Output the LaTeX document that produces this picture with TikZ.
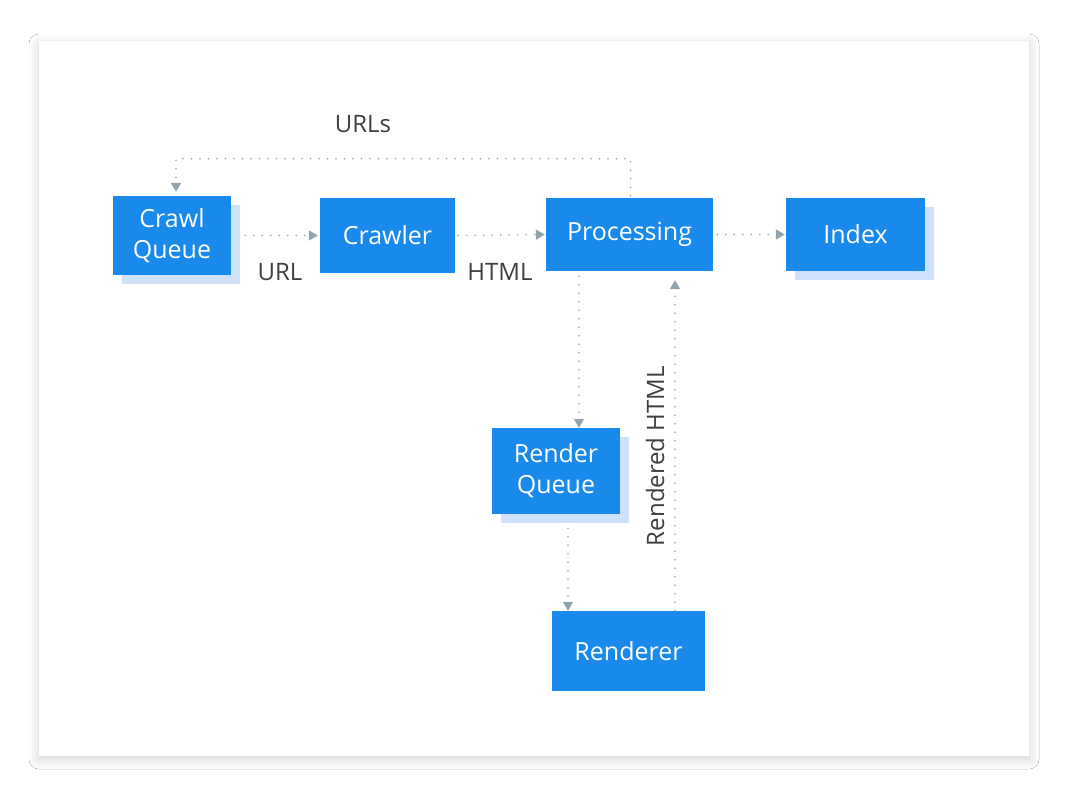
\documentclass[tikz,border=0pt]{standalone}
\usepackage{fontspec}
\setmainfont{Open Sans}
\usetikzlibrary{arrows.meta,shadows,shadows.blur,calc}
\definecolor{gblue}{HTML}{1A89EC}
\definecolor{shblue}{HTML}{D0E2FA}
\definecolor{arrgray}{HTML}{90A4AE}
\definecolor{txtgray}{HTML}{3C4043}
\tikzset{
  box/.style={rectangle, fill=gblue, text=white, inner sep=0pt, align=center,
    font=\fontsize{25}{31}\selectfont},
  shbox/.style={box, general shadow={fill=shblue, shadow xshift=9pt, shadow yshift=-9pt}},
  arr/.style={draw=arrgray, line width=1.7pt, dash pattern=on 0pt off 8.5pt, line cap=round,
    -{Triangle[width=10pt,length=9pt,fill=arrgray,line cap=butt]}},
  lbl/.style={text=txtgray, font=\fontsize{24}{28}\selectfont, inner sep=0pt}
}
\begin{document}
\begin{tikzpicture}[x=1pt,y=-1pt]
\useasboundingbox (0,0) rectangle (1069,800);
\fill[white] (0,0) rectangle (1069,800);
\fill[white, blur shadow={shadow blur radius=10pt, shadow xshift=0pt, shadow yshift=-3pt, shadow opacity=18}] (39,41) rectangle (1029,756);

\node[shbox, minimum width=118pt, minimum height=79pt] (cq) at (172,235.5) {Crawl\\Queue};
\node[box, minimum width=135pt, minimum height=75pt] (cr) at (387.5,235.5) {Crawler};
\node[box, minimum width=167pt, minimum height=73pt] (pr) at (629.5,234.5) {Processing};
\node[shbox, minimum width=139pt, minimum height=73pt] (ix) at (855.5,234.5) {Index};
\node[shbox, minimum width=128pt, minimum height=86pt] (rq) at (556,471) {Render\\Queue};
\node[box, minimum width=153pt, minimum height=80pt] (rn) at (628.5,651) {Renderer};

\draw[arr] ([xshift=14pt]cq.east) -- ([xshift=-2pt]cr.west);
\draw[arr] ([xshift=3pt]cr.east) -- ([xshift=-1pt]pr.west);
\draw[arr] ([xshift=4pt]pr.east) -- ([xshift=-1pt]ix.west);
\draw[arr] ([xshift=1pt,yshift=2pt]pr.north) -- ++(0,-37) -| ([xshift=4pt,yshift=4pt]cq.north);

\coordinate (pd) at ([xshift=-50.5pt,yshift=-5pt]pr.south);
\draw[arr] (pd) -- (pd |- rq.north);
\coordinate (rd) at ([xshift=12pt,yshift=-14pt]rq.south);
\draw[arr] (rd) -- (rd |- rn.north);
\coordinate (ru) at ([xshift=46.5pt]rn.north);
\coordinate (pu) at ([yshift=-9pt]pr.south);
\draw[arr] (ru) -- (ru |- pu);

\node[lbl] (lurl) at (280,272) {URL};
\node[lbl] (lhtml) at (500,272) {HTML};
\node[lbl] (lurls) at (363,124) {URLs};
\node[lbl, rotate=90] (lrh) at (655,456) {Rendered HTML};
\end{tikzpicture}
\end{document}
